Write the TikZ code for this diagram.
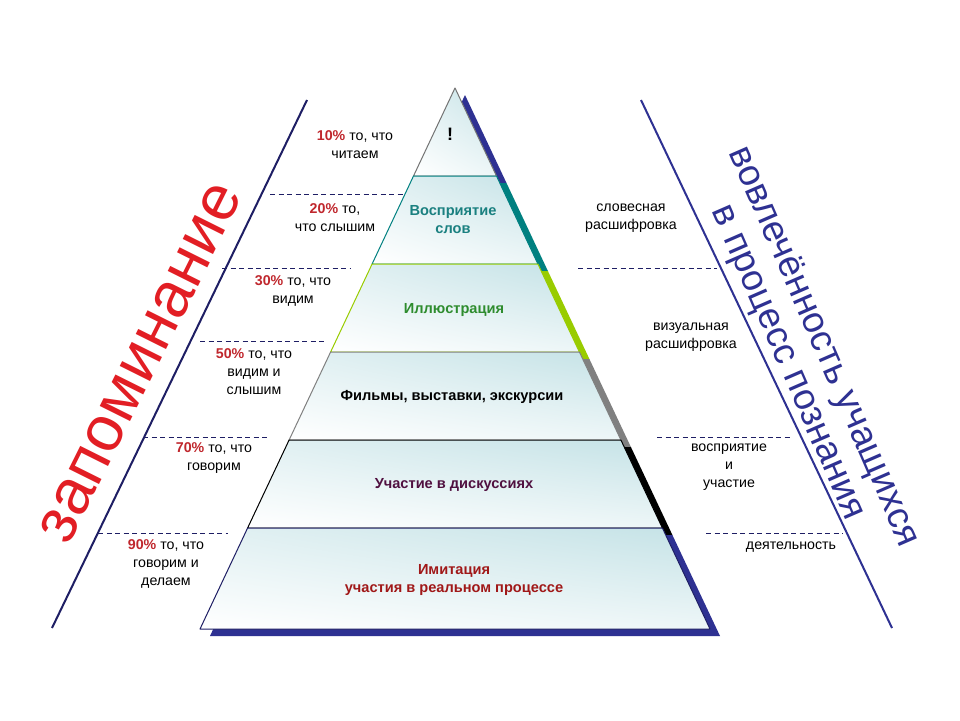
\documentclass[tikz,border=0pt]{standalone}
\usepackage{fontspec}
\setmainfont{Liberation Sans}
\usepackage{tikz}
\usetikzlibrary{shadings}
\definecolor{pyrnavy}{RGB}{46,49,146}
\definecolor{pyrteal}{RGB}{0,128,128}
\definecolor{pyrlime}{RGB}{153,204,0}
\definecolor{pyrgray}{RGB}{128,128,128}
\definecolor{pyrtint}{RGB}{196,226,230}
\definecolor{pctred}{RGB}{192,39,45}
\definecolor{memred}{RGB}{226,30,36}
\definecolor{txtteal}{RGB}{26,128,128}
\definecolor{txtgreen}{RGB}{46,140,46}
\definecolor{txtplum}{RGB}{80,16,64}
\definecolor{txtred}{RGB}{160,24,24}
\definecolor{lnavy}{RGB}{30,30,100}
\newcommand{\pct}[1]{\textcolor{pctred}{\textbf{#1}}}

\begin{document}
\begin{tikzpicture}[x=1pt,y=-1pt,line join=round]
 \tikzstyle{lbl}=[font=\fontsize{14.2}{18}\selectfont,align=center,inner sep=0pt]
 \tikzstyle{lvl}=[font=\bfseries\fontsize{14.6}{18}\selectfont,align=center,inner sep=0pt]
 \tikzstyle{band}=[upper left=pyrtint!50!white,upper right=pyrtint,lower left=white,lower right=pyrtint!30!white,line width=1pt]
 \tikzstyle{sep}=[dash pattern=on 5pt off 3.5pt,line width=0.9pt,color=lnavy]
 \tikzstyle{axis}=[line width=2pt,color=lnavy]

 \useasboundingbox[fill=white] (0,0) rectangle (960,720);

 \draw[axis] (307,100) -- (52,628);
 \draw[axis,color=pyrnavy] (641,100) -- (892,628);

 \begin{scope}[shift={(10,7)}]
  \fill[pyrnavy] (455,88) -- (496.5,176) -- (413.5,176) -- cycle;
  \fill[pyrteal] (413.5,176) -- (496.5,176) -- (537.9,264) -- (372.1,264) -- cycle;
  \fill[pyrlime] (372.1,264) -- (537.9,264) -- (579.4,352) -- (330.6,352) -- cycle;
  \fill[pyrgray] (330.6,352) -- (579.4,352) -- (620.9,440) -- (289.1,440) -- cycle;
  \fill[black] (289.1,440) -- (620.9,440) -- (662.4,528) -- (247.6,528) -- cycle;
  \fill[pyrnavy] (247.6,528) -- (662.4,528) -- (710,629) -- (200,629) -- cycle;
 \end{scope}

 \draw[band,draw=black!55] (455,88) -- (496.5,176) -- (413.5,176) -- cycle;
 \draw[band,draw=pyrteal] (413.5,176) -- (496.5,176) -- (537.9,264) -- (372.1,264) -- cycle;
 \draw[band,draw=pyrlime] (372.1,264) -- (537.9,264) -- (579.4,352) -- (330.6,352) -- cycle;
 \draw[band,draw=pyrgray] (330.6,352) -- (579.4,352) -- (620.9,440) -- (289.1,440) -- cycle;
 \draw[band,draw=black] (289.1,440) -- (620.9,440) -- (662.4,528) -- (247.6,528) -- cycle;
 \draw[band,draw=lnavy] (247.6,528) -- (662.4,528) -- (710,629) -- (200,629) -- cycle;

 \node[font=\bfseries\fontsize{18}{18}\selectfont,inner sep=0pt] (excl) at (450,134) {!};
 \node[lvl,text=txtteal] (words) at (453,220) {Восприятие\\слов};
 \node[lvl,text=txtgreen] (illus) at (454,310) {Иллюстрация};
 \node[lvl] (films) at (452,397) {Фильмы, выставки, экскурсии};
 \node[lvl,text=txtplum] (discuss) at (454,485) {Участие в дискуссиях};
 \node[lvl,text=txtred] (imit) at (454,580) {Имитация\\участия в реальном процессе};

 \node[lbl] (p10) at (355,145) {\pct{10\%} то, что\\читаем};
 \node[lbl] (p20) at (335,218) {\pct{20\%} то,\\что слышим};
 \node[lbl] (p30) at (293,291) {\pct{30\%} то, что\\видим};
 \node[lbl] (p50) at (254,372) {\pct{50\%} то, что\\видим и\\слышим};
 \node[lbl] (p70) at (214,458) {\pct{70\%} то, что\\говорим};
 \node[lbl] (p90) at (166,564) {\pct{90\%} то, что\\говорим и\\делаем};

 \node[lbl] (verbal) at (631,218) {словесная\\расшифровка};
 \node[lbl] (visual) at (691,337) {визуальная\\расшифровка};
 \node[lbl] (percep) at (729,467) {восприятие\\и\\участие};
 \node[lbl] (activ) at (791,547) {деятельность};

 \draw[sep] (270,194) -- (403,194);
 \draw[sep] (222,268) -- (350,268);
 \draw[sep] (200,341) -- (325,341);
 \draw[sep] (143,437) -- (270,437);
 \draw[sep] (98,533) -- (228,533);
 \draw[sep] (578,268) -- (717,268);
 \draw[sep] (657,437) -- (792,437);
 \draw[sep] (706,533) -- (843,533);

 \node[text=memred,font=\fontsize{64}{64}\selectfont,rotate=63.5,inner sep=0pt] (memory) at (141,363) {запоминание};
 \node[text=pyrnavy,font=\fontsize{37}{39}\selectfont,rotate=-66.5,align=center,inner sep=0pt] (involve) at (805,355) {вовлечённость учащихся\\в процесс познания};
\end{tikzpicture}
\end{document}
